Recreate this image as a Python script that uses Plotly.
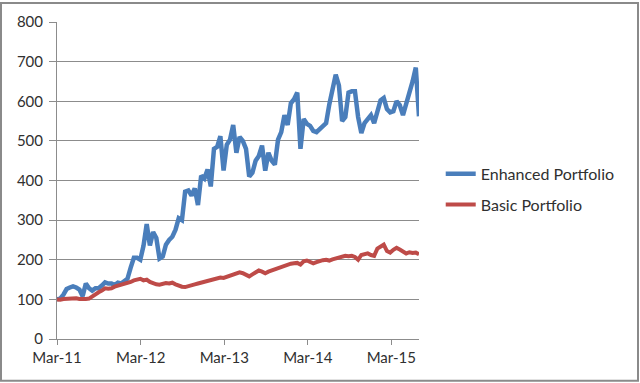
import pandas as pd
import plotly.graph_objects as go

# Biweekly observation dates
start_date = "2011-03-01"
n_points = 114
dates = pd.date_range(start=start_date, periods=n_points, freq="14D")

enhanced = [
    100, 102, 112, 126, 130, 133, 130, 125, 108, 140,
    128, 122, 128, 128, 135, 143, 140, 140, 136, 142,
    140, 145, 152, 180, 205, 205, 200, 235, 290, 236,
    270, 255, 203, 208, 238, 250, 258, 276, 305, 300,
    372, 375, 362, 380, 338, 412, 405, 428, 385, 480,
    485, 512, 425, 490, 503, 540, 470, 510, 500, 480,
    410, 420, 450, 462, 488, 425, 470, 450, 440, 503,
    522, 565, 540, 595, 605, 622, 480, 555, 543, 538,
    525, 522, 530, 535, 545, 592, 625, 667, 640, 550,
    560, 622, 625, 625, 560, 520, 545, 555, 565, 545,
    578, 602, 608, 580, 572, 575, 600, 590, 565, 592,
    625, 650, 685, 562,
]

basic = [
    100, 99, 101, 102, 103, 102, 103, 101, 100, 101,
    102, 108, 115, 118, 122, 128, 127, 128, 132, 134,
    136, 139, 140, 144, 148, 150, 152, 148, 150, 144,
    140, 138, 137, 139, 141, 140, 142, 138, 134, 132,
    131, 134, 136, 138, 140, 142, 144, 146, 148, 150,
    152, 155, 154, 157, 160, 161, 164, 168, 166, 161,
    158, 163, 168, 173, 170, 166, 170, 173, 176, 180,
    182, 186, 188, 190, 191, 192, 188, 196, 198, 195,
    191, 194, 197, 199, 200, 198, 201, 203, 205, 207,
    210, 209, 210, 207, 200, 212, 214, 216, 212, 210,
    228, 232, 238, 222, 218, 225, 230, 226, 222, 216,
    219, 217, 218, 214,
]

series_names = ["Enhanced Portfolio", "Basic Portfolio"]
series_colors = ["#4A7EBB", "#BE4B48"]

x_tick_dates = ["2011-03-01", "2012-03-01", "2013-03-01", "2014-03-01", "2015-03-01"]
x_tick_labels = ["Mar-11", "Mar-12", "Mar-13", "Mar-14", "Mar-15"]
y_ticks = [0, 100, 200, 300, 400, 500, 600, 700, 800]

W, H = 640, 383
ml, mr, mt, mb = 57, 221, 20, 44

fig = go.Figure()
for i, (name, vals, col, w) in enumerate(zip(series_names, [enhanced, basic], series_colors, [4.5, 4])):
    fig.add_trace(go.Scatter(
        x=dates, y=vals, mode="lines", name=name,
        line=dict(color=col, width=w),
        legendgroup=f"g{i}",
    ))

font_family = "Lato, 'Open Sans', Arial, sans-serif"
grid_col = "#8C8C8C"

fig.update_layout(
    width=W, height=H,
    margin=dict(l=ml, r=mr, t=mt, b=mb, pad=0),
    paper_bgcolor="white",
    plot_bgcolor="white",
    font=dict(family=font_family, size=15, color="#303030"),
    showlegend=True,
    legend=dict(
        x=1.06, y=0.575, xanchor="left", yanchor="top",
        font=dict(size=16, color="#303030"),
        tracegroupgap=7,
        bgcolor="rgba(0,0,0,0)",
    ),
    xaxis=dict(
        type="date",
        range=[dates[0], dates[-1]],
        tickvals=x_tick_dates,
        ticktext=x_tick_labels,
        showgrid=False,
        showline=True, linecolor=grid_col, linewidth=1,
        ticks="outside", ticklen=5, tickcolor=grid_col,
        zeroline=False,
    ),
    yaxis=dict(
        range=[0, 800],
        tickvals=y_ticks,
        showgrid=True, gridcolor=grid_col, gridwidth=1,
        showline=True, linecolor=grid_col, linewidth=1,
        ticks="outside", ticklen=7, tickcolor=grid_col,
        zeroline=False,
        ticklabelstandoff=3,
    ),
)

# Outer chart border (Excel-like frame)
pw = W - ml - mr
ph = H - mt - mb
fig.add_shape(
    type="rect", xref="paper", yref="paper",
    x0=(1 - ml) / pw, x1=(W - 2 - ml) / pw,
    y0=-(H - 2 - mt - ph) / ph, y1=1 + (mt - 1) / ph,
    line=dict(color="#8A8A8A", width=2), fillcolor="rgba(0,0,0,0)",
    layer="below",
)

fig.write_html("out.html")
